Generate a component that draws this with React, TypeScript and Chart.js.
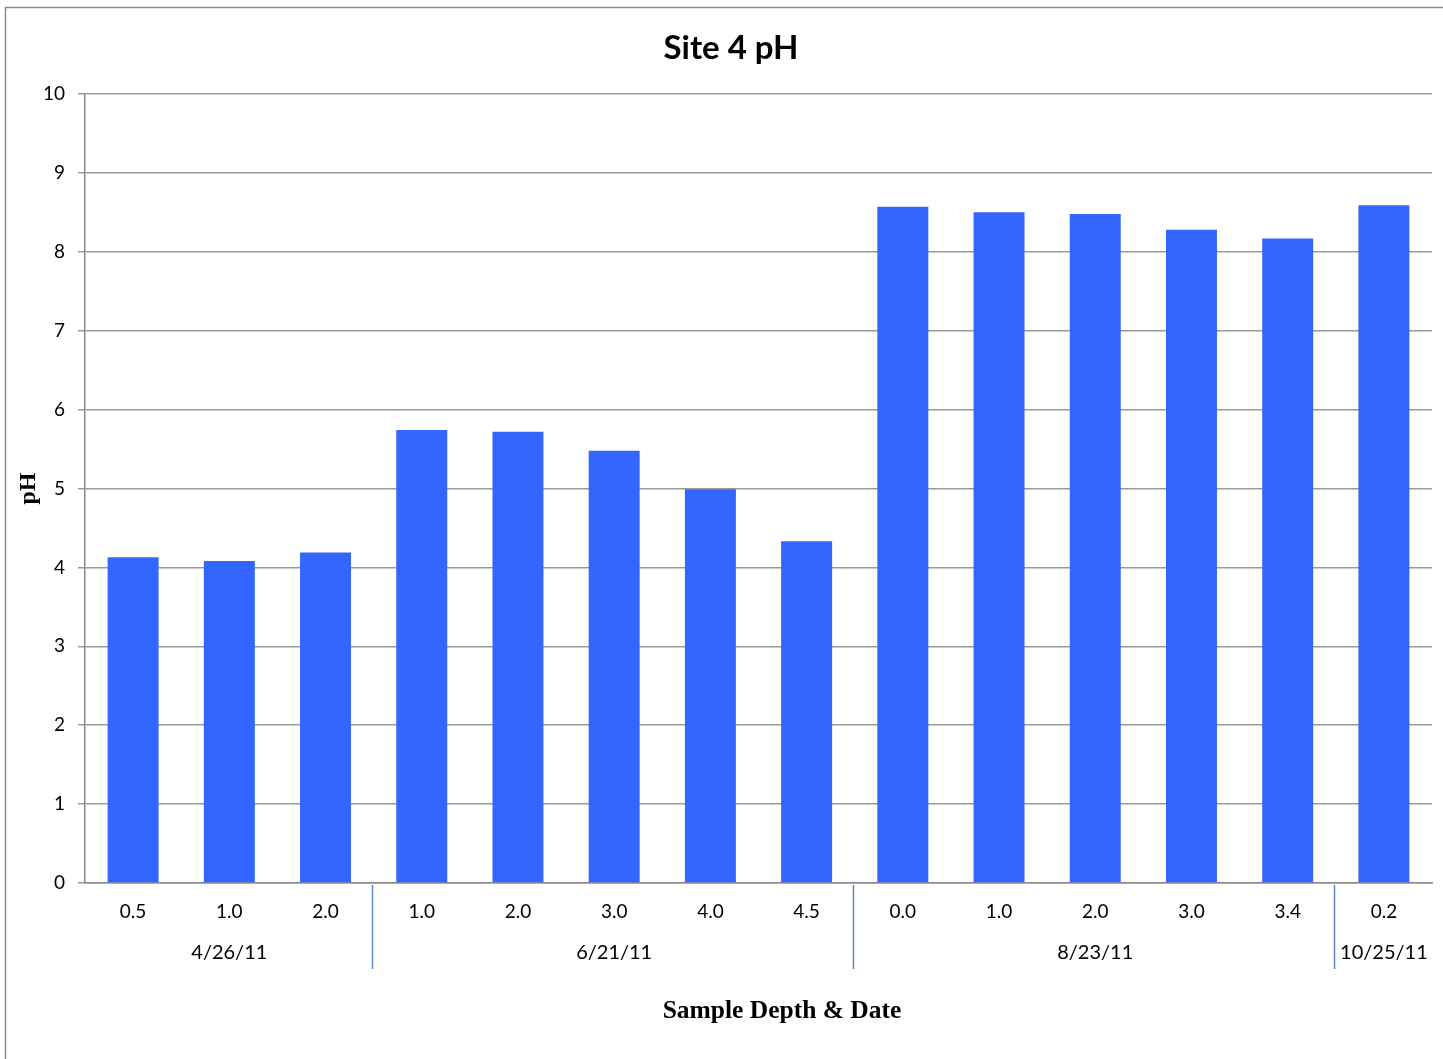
import React, { useEffect, useRef } from "react";
import { Chart, registerables } from "chart.js";

Chart.register(...registerables);

const depthLabels = ["0.5", "1.0", "2.0", "1.0", "2.0", "3.0", "4.0", "4.5", "0.0", "1.0", "2.0", "3.0", "3.4", "0.2"];
const phValues = [4.13, 4.08, 4.19, 5.74, 5.72, 5.48, 4.99, 4.33, 8.57, 8.5, 8.48, 8.28, 8.17, 8.59];
const dateGroups = ["4/26/11", "6/21/11", "8/23/11", "10/25/11"];
const groupStarts = [0, 3, 8, 13];
const groupEnds = [2, 7, 12, 13];
const yTicks = [0, 1, 2, 3, 4, 5, 6, 7, 8, 9, 10];

const TICK_FONT = "Lato, 'Open Sans', sans-serif";

const groupPlugin = {
  id: "groupPlugin",
  afterDraw(chart: any) {
    const ctx = chart.ctx;
    const x = chart.scales.x;
    const area = chart.chartArea;
    ctx.save();
    // outer border
    ctx.strokeStyle = "#8a8a8a";
    ctx.lineWidth = 1.5;
    ctx.beginPath();
    ctx.moveTo(5.5, chart.height + 5);
    ctx.lineTo(5.5, 7.5);
    ctx.lineTo(chart.width + 5, 7.5);
    ctx.stroke();

    // main title
    ctx.fillStyle = "#000";
    ctx.font = "bold 33px Lato, 'Open Sans', sans-serif";
    ctx.textAlign = "center";
    ctx.textBaseline = "middle";
    ctx.fillText("Site 4 pH", 731, 48);

    // group separators
    ctx.strokeStyle = "#5b87c9";
    ctx.lineWidth = 1.5;
    for (let g = 0; g < groupEnds.length - 1; g++) {
      const a = x.getPixelForValue(groupEnds[g]);
      const b = x.getPixelForValue(groupEnds[g] + 1);
      const sx = Math.round((a + b) / 2) - 1.5;
      ctx.beginPath();
      ctx.moveTo(sx, area.bottom + 2);
      ctx.lineTo(sx, area.bottom + 86);
      ctx.stroke();
    }

    // group labels
    ctx.fillStyle = "#000";
    ctx.font = "20px " + TICK_FONT;
    for (let g = 0; g < dateGroups.length; g++) {
      const a = x.getPixelForValue(groupStarts[g]);
      const b = x.getPixelForValue(groupEnds[g]);
      ctx.fillText(dateGroups[g], (a + b) / 2, area.bottom + 70);
    }

    // x axis title
    ctx.font = "bold 25.5px 'Liberation Serif', 'DejaVu Serif', serif";
    ctx.fillText("Sample Depth & Date", 782, 1011);
    ctx.restore();
  },
};

export default function App() {
  const ref = useRef<HTMLCanvasElement>(null);
  useEffect(() => {
    if (!ref.current) return;
    const chart = new Chart(ref.current, {
      type: "bar",
      data: {
        labels: depthLabels,
        datasets: [
          {
            label: "pH",
            data: phValues,
            backgroundColor: "#3366ff",
            borderWidth: 0,
            categoryPercentage: 1,
            barPercentage: 0.53,
          },
        ],
      },
      options: {
        responsive: false,
        animation: false,
        devicePixelRatio: 1,
        layout: { padding: { top: 94, left: 10, right: 11, bottom: 0 } },
        plugins: {
          legend: { display: false },
          title: { display: false },
          tooltip: { enabled: false },
        },
        scales: {
          x: {
            grid: { display: false, drawTicks: false },
            border: { display: true, color: "#8a8a8a", width: 1.5 },
            ticks: {
              color: "#000",
              font: { family: TICK_FONT, size: 19 },
              padding: 17,
              maxRotation: 0,
              autoSkip: false,
            },
            afterFit(scale: any) {
              scale.height = 176;
            },
          },
          y: {
            min: 0,
            max: 10,
            afterBuildTicks(scale: any) {
              scale.ticks = yTicks.map((v) => ({ value: v }));
            },
            grid: { color: "#999999", lineWidth: 1.5, tickLength: 7, drawTicks: true },
            border: { display: true, color: "#8a8a8a", width: 1.5 },
            ticks: {
              color: "#000",
              font: { family: TICK_FONT, size: 19 },
              padding: 13,
            },
            title: {
              display: true,
              text: "pH",
              color: "#000",
              font: { family: "'Liberation Serif', 'DejaVu Serif', serif", size: 24, weight: "bold" },
              padding: { top: 4, bottom: 0 },
            },
            afterFit(scale: any) {
              scale.width = 75;
            },
          },
        },
      },
      plugins: [groupPlugin],
    });
    return () => chart.destroy();
  }, []);
  return (
    <div style={{ position: "absolute", left: 0, top: 0, width: 1443, height: 1059, background: "#fff" }}>
      <canvas ref={ref} width={1443} height={1059} />
    </div>
  );
}
